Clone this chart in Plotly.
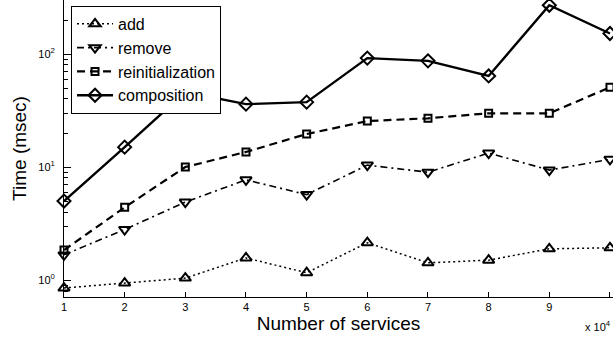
import plotly.graph_objects as go

# Number of services (in units of 10^4)
services = [1, 2, 3, 4, 5, 6, 7, 8, 9, 10]

# Time in milliseconds for each operation
add_ms = [0.85, 0.94, 1.04, 1.57, 1.16, 2.14, 1.42, 1.50, 1.89, 1.93]
remove_ms = [1.67, 2.8, 4.9, 7.7, 5.7, 10.4, 9.0, 13.3, 9.4, 11.7]
reinit_ms = [1.84, 4.4, 10.0, 13.6, 19.6, 25.5, 27.0, 29.9, 29.9, 50.8]
composition_ms = [5.0, 15.0, 46.0, 36.0, 37.5, 92.0, 87.0, 64.0, 270.0, 152.0]

x_ticks = [1, 2, 3, 4, 5, 6, 7, 8, 9, 10]
y_ticks = [1, 10, 100]
y_tick_text = ["10<sup>0</sup>", "10<sup>1</sup>", "10<sup>2</sup>"]
y_minor = [0.8, 0.9, 2, 3, 4, 5, 6, 7, 8, 9, 20, 30, 40, 50, 60, 70, 80, 90, 200, 300]

FONT = "Liberation Sans, Arial, Helvetica, sans-serif"

series = [
    ("add", add_ms, "triangle-up-open", "2px,3px", 1.5, 10),
    ("remove", remove_ms, "triangle-down-open", "7px,4px,2px,4px", 1.6, 10),
    ("reinitialization", reinit_ms, "square-open", "8px,5px", 2.2, 7),
    ("composition", composition_ms, "diamond-open", "solid", 2.4, 10),
]

fig = go.Figure()
for name, vals, symbol, dash, lw, msize in series:
    fig.add_trace(go.Scatter(
        x=services, y=vals, name=name, mode="lines+markers",
        line=dict(color="black", width=lw, dash=dash),
        marker=dict(symbol=symbol, size=msize, color="black",
                    line=dict(color="black", width=2)),
        cliponaxis=False,
    ))

fig.update_layout(
    width=613, height=339,
    margin=dict(l=64, r=0, t=0, b=42),
    paper_bgcolor="white", plot_bgcolor="white",
    font=dict(family=FONT, color="black"),
    showlegend=True,
    legend=dict(
        x=0.0128, y=0.98, xanchor="left", yanchor="top",
        bordercolor="black", borderwidth=1, bgcolor="white",
        font=dict(size=16, family=FONT),
        itemwidth=36,
        tracegroupgap=0,
    ),
)

fig.update_xaxes(
    range=[1, 10.05],
    tickvals=x_ticks, ticktext=[str(v) for v in x_ticks],
    ticks="inside", ticklen=5, tickcolor="black", tickwidth=1,
    showline=True, linecolor="black", linewidth=1,
    showgrid=False, zeroline=False,
    tickfont=dict(size=11, family=FONT),
    title=dict(text="Number of services", font=dict(size=19, family=FONT), standoff=2),
)

fig.update_yaxes(
    type="log", range=[-0.15, 2.478],
    tickvals=y_ticks, ticktext=y_tick_text,
    ticks="inside", ticklen=7, tickcolor="black", tickwidth=1,
    minor=dict(tickvals=y_minor, ticks="inside", ticklen=4, tickcolor="black", showgrid=False),
    showline=True, linecolor="black", linewidth=1,
    showgrid=False, zeroline=False,
    tickfont=dict(size=11, family=FONT),
    ticklabelstandoff=6,
    title=dict(text="Time (msec)", font=dict(size=19, family=FONT), standoff=6),
)

fig.add_annotation(
    x=1, y=0, xref="paper", yref="paper", xanchor="right", yanchor="top",
    xshift=0, yshift=-20,
    text="x 10<sup>4</sup>", showarrow=False,
    font=dict(size=11, family=FONT, color="black"),
)

fig.write_html("out.html")
